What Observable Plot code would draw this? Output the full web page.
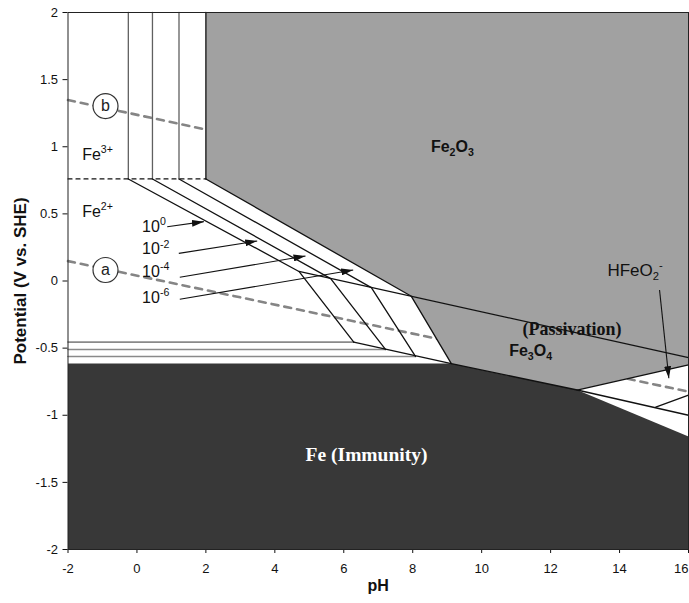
<!DOCTYPE html>
<html>
<head>
<meta charset="utf-8">
<script src="https://cdn.jsdelivr.net/npm/d3@7"></script>
<script src="https://cdn.jsdelivr.net/npm/@observablehq/plot@0.6"></script>
<style>
  body { margin: 0; background: #fff; }
</style>
</head>
<body>
<div id="chart"></div>
<script>
// Axis ticks
const xTicks = [-2, 0, 2, 4, 6, 8, 10, 12, 14, 16];
const yTicks = [-2, -1.5, -1, -0.5, 0, 0.5, 1, 1.5, 2];

// Stability regions, vertices as [pH, E (V vs. SHE)]
const fe2o3Region = [[2, 2], [16, 2], [16, -0.57], [7.96, -0.114], [2, 0.76]];
const fe3o4Region = [[7.96, -0.114], [16, -0.57], [16, -0.625], [12.77, -0.812], [9.12, -0.615]];
const feRegion = [[-2, -0.615], [9.12, -0.615], [12.77, -0.812], [16, -1.159], [16, -2], [-2, -2]];

// Water stability lines: (a) hydrogen evolution, (b) oxygen evolution
const waterA = [[-2, 0.148], [16, -0.824]];
const waterB = [[-2, 1.348], [16, 0.358]];

// Fe3+/Fe2+ couple
const fe3fe2Line = [[-2, 0.76], [2, 0.76]];

// Dissolved iron activity: 10^0, 10^-2, 10^-4, 10^-6
const concLabels = ["10^{0}", "10^{-2}", "10^{-4}", "10^{-6}"];
const fe3Fe2o3PH = [-0.25, 0.45, 1.22, 2.0];                                 // Fe3+ / Fe2O3
const fe2Fe2o3End = [[4.70, 0.071], [5.62, 0.018], [6.80, -0.049], [7.96, -0.114]]; // end of Fe2+ / Fe2O3
const fe2Fe3o4End = [[6.29, -0.455], [7.21, -0.51], [8.08, -0.562], [9.12, -0.615]]; // end of Fe2+ / Fe3O4
const topE = 0.76;

// Other boundaries
const fe2o3Fe3o4Line = [[4.70, 0.071], [16, -0.57]];
const feFe3o4Line = [[6.29, -0.455], [9.12, -0.615], [12.77, -0.812], [16, -1.0]];
const fe3o4HfeoLine = [[12.77, -0.812], [16, -0.625]];
const fe3o4HfeoLine2 = [[15.05, -0.94], [16, -0.85]];

// Label arrows
const arrowFrom = [[0.878, 0.404], [1.214, 0.206], [1.243, 0.028], [1.243, -0.136], [15.16, -0.067]];
const arrowTo = [[1.94, 0.442], [3.489, 0.298], [4.89, 0.186], [6.274, 0.082], [15.43, -0.724]];
const concLabelPH = 0.15;
const concLabelE = [0.404, 0.237, 0.069, -0.123];

// Circled water-line markers
const circleNames = ["a", "b"];
const circlePH = [-0.912, -0.912];
const circleE = [0.082, 1.303];

// ---- build tables ----
const pts = (id, arr) => arr.map(([pH, E]) => ({id, pH, E}));
const polygon = (arr) => arr.map(([pH, E]) => ({pH, E}));

const greyVerticals = [], greyHorizontals = [], blackLines = [];
for (let i = 0; i < 4; i++) {
  const v = pts("v" + i, [[fe3Fe2o3PH[i], 2], [fe3Fe2o3PH[i], topE]]);
  const h = pts("h" + i, [[-2, fe2Fe3o4End[i][1]], fe2Fe3o4End[i]]);
  const d = pts("d" + i, [[fe3Fe2o3PH[i], topE], fe2Fe2o3End[i], fe2Fe3o4End[i]]);
  if (i < 3) { greyVerticals.push(...v); greyHorizontals.push(...h); }
  else blackLines.push(...v);
  blackLines.push(...d);
}
blackLines.push(...pts("m1", fe2o3Fe3o4Line), ...pts("m2", feFe3o4Line),
  ...pts("m3", fe3o4HfeoLine), ...pts("m4", fe3o4HfeoLine2));

const waterLines = [...pts("a", waterA), ...pts("b", waterB)];
const arrows = arrowFrom.map((f, i) => ({x1: f[0], y1: f[1], x2: arrowTo[i][0], y2: arrowTo[i][1]}));
const concTable = concLabels.map((t, i) => ({t, pH: concLabelPH, E: concLabelE[i]}));
const circles = circleNames.map((t, i) => ({t, pH: circlePH[i], E: circleE[i]}));

const sans = "Liberation Sans, Arial, Helvetica, sans-serif";
const serif = "Liberation Serif, Times New Roman, serif";

const chart = Plot.plot({
  width: 689,
  height: 603,
  marginLeft: 67.5,
  marginRight: 1,
  marginTop: 12,
  marginBottom: 54,
  style: {fontFamily: sans, fontSize: "13px", color: "#111", background: "#fff"},
  x: {domain: [-2, 16], ticks: xTicks, tickFormat: (d) => String(d), tickSize: 4, tickPadding: 10, label: null},
  y: {domain: [-2, 2], ticks: yTicks, tickFormat: (d) => String(d), tickSize: 5, tickPadding: 5, label: null},
  marks: [
    // water lines sit underneath the oxide regions
    Plot.line(waterLines, {x: "pH", y: "E", z: "id", stroke: "#858585", strokeWidth: 2.6, strokeDasharray: "7,6"}),
    Plot.line(polygon(fe2o3Region), {x: "pH", y: "E", fill: "#a1a1a1", stroke: "none"}),
    Plot.line(polygon(fe3o4Region), {x: "pH", y: "E", fill: "#a1a1a1", stroke: "none"}),
    Plot.line(polygon(feRegion), {x: "pH", y: "E", fill: "#383838", stroke: "none"}),
    Plot.line(greyVerticals, {x: "pH", y: "E", z: "id", stroke: "#606060", strokeWidth: 1.3}),
    Plot.line(greyHorizontals, {x: "pH", y: "E", z: "id", stroke: "#8a8a8a", strokeWidth: 1.6}),
    Plot.line(blackLines, {x: "pH", y: "E", z: "id", stroke: "#111", strokeWidth: 1.3}),
    Plot.line(pts("f", fe3fe2Line), {x: "pH", y: "E", stroke: "#111", strokeWidth: 1.2, strokeDasharray: "4,4"}),
    Plot.link(arrows, {x1: "x1", y1: "y1", x2: "x2", y2: "y2", stroke: "#111", strokeWidth: 1.1, markerEnd: "arrow"}),
    Plot.dot(circles, {x: "pH", y: "E", r: 12.5, fill: "#fff", stroke: "#333", strokeWidth: 1.2}),
    Plot.text(circles, {x: "pH", y: "E", text: "t", fontSize: 16, fill: "#222"}),
    Plot.text(concTable, {x: "pH", y: "E", text: "t", textAnchor: "start", fontSize: 16, fill: "#111"}),
    Plot.text(["Fe^{3+}"], {x: -1.59, y: 0.938, textAnchor: "start", fontSize: 16, fill: "#111"}),
    Plot.text(["Fe^{2+}"], {x: -1.59, y: 0.516, textAnchor: "start", fontSize: 16, fill: "#111"}),
    Plot.text(["HFeO_{2}^{-}"], {x: 14.45, y: 0.08, fontSize: 17, fill: "#111"}),
    Plot.text(["Fe_{2}O_{3}"], {x: 9.15, y: 1.0, fontSize: 16, fontWeight: "bold", fill: "#111"}),
    Plot.text(["Fe_{3}O_{4}"], {x: 11.42, y: -0.517, fontSize: 16, fontWeight: "bold", fill: "#111"}),
    Plot.text(["(Passivation)"], {x: 12.62, y: -0.357, fontSize: 18, fontWeight: "bold", fontFamily: serif, fill: "#111"}),
    Plot.text(["Fe (Immunity)"], {x: 6.66, y: -1.296, fontSize: 19.5, fontWeight: "bold", fontFamily: serif, fill: "#fff"}),
    Plot.frame({stroke: "#222", strokeWidth: 1}),
    Plot.text(["pH"], {frameAnchor: "bottom", dy: 41, fontSize: 16, fontWeight: "bold", fill: "#111"}),
    Plot.text(["Potential (V vs. SHE)"], {frameAnchor: "left", textAnchor: "middle", dx: -47, rotate: -90, fontSize: 17, fontWeight: "bold", fill: "#111"})
  ]
});

document.getElementById("chart").appendChild(chart);

// Keep the last x tick label inside the right edge
chart.querySelectorAll("[aria-label='x-axis tick label'] text").forEach((t) => {
  if (t.textContent === "16") t.setAttribute("text-anchor", "end");
});

// Filled triangular arrowheads
chart.querySelectorAll("marker").forEach((m) => {
  m.setAttribute("viewBox", "-12 -3.5 12 7");
  m.setAttribute("markerWidth", "12");
  m.setAttribute("markerHeight", "7");
  m.setAttribute("markerUnits", "userSpaceOnUse");
  m.setAttribute("orient", "auto");
  m.innerHTML = "";
  const p = document.createElementNS("http://www.w3.org/2000/svg", "path");
  p.setAttribute("d", "M-12,-3.5L0,0L-12,3.5Z");
  p.setAttribute("fill", "#111");
  p.setAttribute("stroke", "none");
  m.appendChild(p);
});

// Turn ^{..} and _{..} markup into raised / lowered tspans
const NS = "http://www.w3.org/2000/svg";
function setScripts(el, s, fs) {
  el.textContent = "";
  const re = /([\^_])\{([^}]*)\}/g;
  let pos = 0, cur = 0, m;
  const add = (txt, shift, small) => {
    const ts = document.createElementNS(NS, "tspan");
    const dy = shift - cur;
    if (dy) ts.setAttribute("dy", dy.toFixed(2));
    if (small) ts.setAttribute("font-size", (fs * 0.66).toFixed(1));
    ts.textContent = txt;
    el.appendChild(ts);
    cur = shift;
  };
  while ((m = re.exec(s))) {
    if (m.index > pos) add(s.slice(pos, m.index), 0, false);
    add(m[2], m[1] === "^" ? -0.42 * fs : 0.25 * fs, true);
    pos = re.lastIndex;
  }
  if (pos < s.length) add(s.slice(pos), 0, false);
}
chart.querySelectorAll("text").forEach((t) => {
  const s = t.textContent;
  if (!/[\^_]\{/.test(s)) return;
  const fs = parseFloat(getComputedStyle(t).fontSize) || 14;
  setScripts(t, s, fs);
});
</script>
</body>
</html>
